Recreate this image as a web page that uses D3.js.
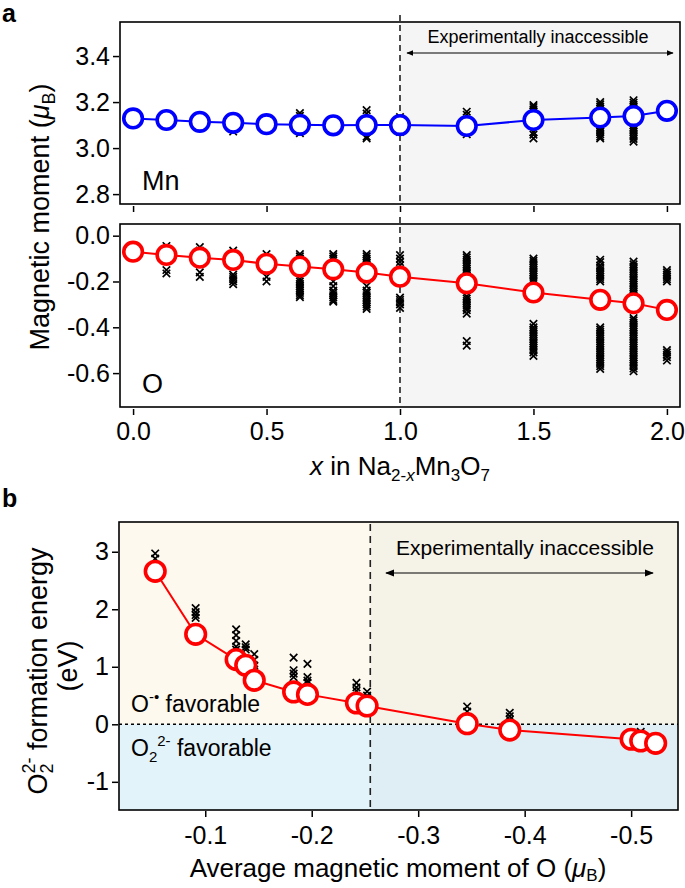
<!DOCTYPE html>
<html><head><meta charset="utf-8">
<script src="https://cdn.jsdelivr.net/npm/d3@7"></script>
<style>
body{margin:0;background:#fff;}
text{font-family:"Liberation Sans",Arial,Helvetica,sans-serif;fill:#000;}
</style></head>
<body><svg id="c" width="685" height="888"></svg>
<script>
// ---------- DATA ----------
const xContent = [0, 0.125, 0.25, 0.375, 0.5, 0.625, 0.75, 0.875, 1.0, 1.25, 1.5, 1.75, 1.875, 2.0];
const mnMean = [3.129, 3.122, 3.114, 3.110, 3.104, 3.101, 3.099, 3.100, 3.100, 3.096, 3.122, 3.133, 3.139, 3.162];
const oMean = [-0.070, -0.084, -0.096, -0.106, -0.123, -0.135, -0.147, -0.161, -0.179, -0.208, -0.248, -0.280, -0.295, -0.324];
const mnAtoms = [
  [],
  [],
  [],
  [3.128, 3.072],
  [],
  [3.152, 3.140, 3.075, 3.065],
  [],
  [3.165, 3.150, 3.050, 3.042],
  [3.135, 3.070],
  [3.158, 3.145, 3.060],
  [3.187, 3.178, 3.168, 3.160, 3.068, 3.058, 3.042],
  [3.200, 3.190, 3.180, 3.170, 3.160, 3.150, 3.110, 3.100, 3.090, 3.080, 3.070, 3.060, 3.050, 3.042],
  [3.208, 3.198, 3.188, 3.178, 3.168, 3.100, 3.090, 3.080, 3.070, 3.060, 3.050, 3.040, 3.028],
  []
];
const oAtoms = [
  [],
  [-0.045, -0.060, -0.150, -0.165],
  [-0.050, -0.065, -0.160, -0.180],
  [-0.065, -0.080, -0.170, -0.180, -0.190, -0.200, -0.212],
  [-0.080, -0.180, -0.200],
  [-0.080, -0.090, -0.100, -0.190, -0.200, -0.210, -0.220, -0.230, -0.240, -0.250, -0.260, -0.268],
  [-0.080, -0.090, -0.100, -0.200, -0.220, -0.240, -0.250, -0.260, -0.270, -0.280, -0.288],
  [-0.080, -0.090, -0.100, -0.110, -0.120, -0.130, -0.220, -0.240, -0.250, -0.260, -0.270, -0.280, -0.290, -0.300, -0.310, -0.320],
  [-0.085, -0.100, -0.115, -0.130, -0.270, -0.280, -0.290, -0.300, -0.315],
  [-0.085, -0.095, -0.105, -0.115, -0.125, -0.135, -0.145, -0.155, -0.165, -0.175, -0.265, -0.275, -0.285, -0.295, -0.305, -0.315, -0.325, -0.340, -0.460, -0.480],
  [-0.100, -0.110, -0.120, -0.130, -0.140, -0.150, -0.160, -0.170, -0.180, -0.190, -0.200, -0.385, -0.400, -0.410, -0.420, -0.430, -0.440, -0.450, -0.460, -0.470, -0.480, -0.490, -0.500, -0.510, -0.525],
  [-0.105, -0.115, -0.130, -0.140, -0.150, -0.160, -0.170, -0.180, -0.190, -0.200, -0.400, -0.410, -0.420, -0.430, -0.440, -0.450, -0.460, -0.470, -0.480, -0.490, -0.500, -0.510, -0.520, -0.530, -0.540, -0.550, -0.560, -0.570, -0.582],
  [-0.113, -0.125, -0.135, -0.145, -0.155, -0.165, -0.175, -0.185, -0.195, -0.205, -0.215, -0.225, -0.235, -0.245, -0.255, -0.265, -0.275, -0.285, -0.295, -0.360, -0.370, -0.380, -0.390, -0.400, -0.410, -0.420, -0.430, -0.440, -0.450, -0.460, -0.470, -0.480, -0.490, -0.500, -0.510, -0.520, -0.530, -0.540, -0.550, -0.560, -0.570, -0.580, -0.592],
  [-0.150, -0.160, -0.170, -0.180, -0.190, -0.200, -0.500, -0.510, -0.520, -0.530, -0.545]
];
const bMoment = [-0.053, -0.091, -0.129, -0.138, -0.146, -0.183, -0.196, -0.242, -0.252, -0.346, -0.386, -0.500, -0.509, -0.523];
const bEnergy = [2.66, 1.565, 1.125, 1.026, 0.765, 0.562, 0.52, 0.37, 0.318, 0.01, -0.10, -0.26, -0.29, -0.33];
const bAtoms = [
  [2.97, 2.88],
  [2.02, 1.95, 1.90, 1.85],
  [1.65, 1.55, 1.45, 1.35, 1.30],
  [1.39, 1.34, 1.30],
  [1.22, 1.12, 1.02, 0.95],
  [1.16, 0.94, 0.88, 0.82],
  [1.05, 0.82, 0.76, 0.72],
  [0.72, 0.64, 0.58],
  [0.57, 0.50],
  [0.31, 0.22],
  [0.20, 0.14, 0.08],
  [-0.15],
  [-0.13],
  []
];
const xTicksA = [0, 0.5, 1.0, 1.5, 2.0];
const xTickLabelsA = ["0.0", "0.5", "1.0", "1.5", "2.0"];
const mnTicks = [2.8, 3.0, 3.2, 3.4];
const mnTickLabels = ["2.8", "3.0", "3.2", "3.4"];
const oTicks = [0.0, -0.2, -0.4, -0.6];
const oTickLabels = ["0.0", "-0.2", "-0.4", "-0.6"];
const xTicksB = [-0.1, -0.2, -0.3, -0.4, -0.5];
const xTickLabelsB = ["-0.1", "-0.2", "-0.3", "-0.4", "-0.5"];
const yTicksB = [-1, 0, 1, 2, 3];
const yTickLabelsB = ["-1", "0", "1", "2", "3"];
const accessLimitA = 1.0;
const accessLimitB = -0.255;

// ---------- DRAW ----------
const svg = d3.select("#c");
const FONT_TICK = 25;

// scales panel a
const xA = d3.scaleLinear().domain([-0.049, 2.049]).range([120, 680]);
const yMn = d3.scaleLinear().domain([2.757, 3.548]).range([204, 22]);
const yO = d3.scaleLinear().domain([-0.748, 0.051]).range([407, 224]);
// scales panel b
const xB = d3.scaleLinear().domain([-0.019, -0.544]).range([119, 678]);
const yB = d3.scaleLinear().domain([-1.49, 3.517]).range([810, 522]);

const defs = svg.append("defs");
defs.append("marker").attr("id","arr").attr("viewBox","0 0 10 10").attr("refX",9).attr("refY",5)
  .attr("markerWidth",7).attr("markerHeight",7).attr("orient","auto-start-reverse").attr("markerUnits","userSpaceOnUse")
  .append("path").attr("d","M0,1L10,5L0,9Z").attr("fill","#000");
defs.append("marker").attr("id","arrB").attr("viewBox","0 0 10 10").attr("refX",9).attr("refY",5)
  .attr("markerWidth",9).attr("markerHeight",9).attr("orient","auto-start-reverse").attr("markerUnits","userSpaceOnUse")
  .append("path").attr("d","M0,1L10,5L0,9Z").attr("fill","#000");

const cross = d3.symbol().type(d3.symbolX).size(38);

function styleAxis(ax, dy, isY) {
  ax.select(".domain").remove();
  const t = ax.selectAll("text").attr("font-size", FONT_TICK).attr("font-family", "Liberation Sans, Arial").attr("fill", "#000");
  if (isY) t.attr("x", -9); else t.attr("y", dy);
  ax.selectAll("line").attr("stroke-width", 1.5);
}

function panelA(yS, means, atoms, color, label, showXLabels) {
  const [x0, x1] = xA.range();
  const [yb, yt] = yS.range();
  svg.append("rect").attr("x", xA(accessLimitA)).attr("y", yt).attr("width", x1 - xA(accessLimitA)).attr("height", yb - yt).attr("fill", "#f5f5f5");
  svg.append("line").attr("x1", xA(accessLimitA)).attr("x2", xA(accessLimitA)).attr("y1", yt - 7).attr("y2", yb)
    .attr("stroke", "#222").attr("stroke-width", 1.6).attr("stroke-dasharray", "6,4");
  const g = svg.append("g");
  xContent.forEach((xv, i) => {
    atoms[i].forEach(v => {
      g.append("path").attr("d", cross).attr("transform", `translate(${xA(xv)},${yS(v)})`)
        .attr("fill", "none").attr("stroke", "#000").attr("stroke-width", 1.7);
    });
  });
  const line = d3.line().x((d, i) => xA(xContent[i])).y(d => yS(d));
  svg.append("path").attr("d", line(means)).attr("fill", "none").attr("stroke", color).attr("stroke-width", 2);
  svg.selectAll(null).data(means).enter().append("circle")
    .attr("cx", (d, i) => xA(xContent[i])).attr("cy", d => yS(d)).attr("r", 9.3)
    .attr("fill", "#fff").attr("stroke", color).attr("stroke-width", 3.6);
  svg.append("rect").attr("x", x0).attr("y", yt).attr("width", x1 - x0).attr("height", yb - yt)
    .attr("fill", "none").attr("stroke", "#000").attr("stroke-width", 1.6);
  const ya = svg.append("g").attr("transform", `translate(${x0 - 1},0)`)
    .call(d3.axisLeft(yS).tickValues(label === "Mn" ? mnTicks : oTicks).tickSize(6).tickSizeOuter(0)
      .tickFormat((d, i) => (label === "Mn" ? mnTickLabels : oTickLabels)[i]));
  styleAxis(ya, 0, true);
  const xa = svg.append("g").attr("transform", `translate(0,${yb + 2})`)
    .call(d3.axisBottom(xA).tickValues(xTicksA).tickSize(6).tickSizeOuter(0).tickFormat((d, i) => showXLabels ? xTickLabelsA[i] : ""));
  styleAxis(xa, 13, false);
  svg.append("text").attr("x", x0 + 22).attr("y", yb - 14).attr("font-size", 27).text(label);
}

panelA(yMn, mnMean, mnAtoms, "#0000ff", "Mn", false);
panelA(yO, oMean, oAtoms, "#ff0000", "O", true);

svg.append("text").attr("x", 538).attr("y", 43).attr("text-anchor", "middle").attr("font-size", 18).text("Experimentally inaccessible");
svg.append("line").attr("x1", 407).attr("x2", 673).attr("y1", 53).attr("y2", 53).attr("stroke", "#000").attr("stroke-width", 1.2)
  .attr("marker-start", "url(#arr)").attr("marker-end", "url(#arr)");

const ytA = svg.append("text").attr("transform", "translate(49,217) rotate(-90)").attr("text-anchor", "middle").attr("font-size", 27);
ytA.append("tspan").text("Magnetic moment (");
ytA.append("tspan").attr("font-style", "italic").text("μ");
ytA.append("tspan").attr("font-size", 18).attr("dy", 6).text("B");
ytA.append("tspan").attr("dy", -6).text(")");

const xtA = svg.append("text").attr("x", 400).attr("y", 475).attr("text-anchor", "middle").attr("font-size", 26);
xtA.append("tspan").attr("font-style", "italic").text("x");
xtA.append("tspan").text(" in Na");
xtA.append("tspan").attr("font-size", 17).attr("dy", 6).text("2-");
xtA.append("tspan").attr("font-size", 17).attr("font-style", "italic").text("x");
xtA.append("tspan").attr("dy", -6).text("Mn");
xtA.append("tspan").attr("font-size", 17).attr("dy", 6).text("3");
xtA.append("tspan").attr("dy", -6).text("O");
xtA.append("tspan").attr("font-size", 17).attr("dy", 6).text("7");

// ---------- panel b ----------
const [bx0, bx1] = xB.range();
const [by1, by0] = yB.range();
const xs = xB(accessLimitB), y0 = yB(0);
svg.append("rect").attr("x", bx0).attr("y", by0).attr("width", xs - bx0).attr("height", y0 - by0).attr("fill", "#fdf9ee");
svg.append("rect").attr("x", xs).attr("y", by0).attr("width", bx1 - xs).attr("height", y0 - by0).attr("fill", "#f5f2e7");
svg.append("rect").attr("x", bx0).attr("y", y0).attr("width", xs - bx0).attr("height", by1 - y0).attr("fill", "#e3f3fa");
svg.append("rect").attr("x", xs).attr("y", y0).attr("width", bx1 - xs).attr("height", by1 - y0).attr("fill", "#dfeef4");
svg.append("line").attr("x1", bx0).attr("x2", bx1).attr("y1", y0).attr("y2", y0).attr("stroke", "#000").attr("stroke-width", 1.6).attr("stroke-dasharray", "3,3");
svg.append("line").attr("x1", xs).attr("x2", xs).attr("y1", by0 + 2).attr("y2", by1).attr("stroke", "#222").attr("stroke-width", 1.6).attr("stroke-dasharray", "7,5");

svg.append("text").attr("x", 525).attr("y", 555).attr("text-anchor", "middle").attr("font-size", 21).text("Experimentally inaccessible");
svg.append("line").attr("x1", 386).attr("x2", 653).attr("y1", 573).attr("y2", 573).attr("stroke", "#000").attr("stroke-width", 1.2)
  .attr("marker-start", "url(#arrB)").attr("marker-end", "url(#arrB)");

const t1 = svg.append("text").attr("x", 131).attr("y", 712).attr("font-size", 23);
t1.append("tspan").text("O");
t1.append("tspan").attr("font-size", 15).attr("dy", -10).text("-•");
t1.append("tspan").attr("dy", 10).text(" favorable");
const t2 = svg.append("text").attr("x", 131).attr("y", 756).attr("font-size", 23);
t2.append("tspan").text("O");
t2.append("tspan").attr("font-size", 15).attr("dy", 6).text("2");
t2.append("tspan").attr("font-size", 15).attr("dy", -16).text("2-");
t2.append("tspan").attr("dy", 10).text(" favorable");

const gb = svg.append("g");
bMoment.forEach((xv, i) => {
  bAtoms[i].forEach(v => {
    gb.append("path").attr("d", cross).attr("transform", `translate(${xB(xv)},${yB(v)})`)
      .attr("fill", "none").attr("stroke", "#000").attr("stroke-width", 1.7);
  });
});
const lineB = d3.line().x((d, i) => xB(bMoment[i])).y(d => yB(d));
svg.append("path").attr("d", lineB(bEnergy)).attr("fill", "none").attr("stroke", "#ff0000").attr("stroke-width", 2);
svg.selectAll(null).data(bEnergy).enter().append("circle")
  .attr("cx", (d, i) => xB(bMoment[i])).attr("cy", d => yB(d)).attr("r", 9.8)
  .attr("fill", "#fff").attr("stroke", "#ff0000").attr("stroke-width", 3.6);

svg.append("rect").attr("x", bx0).attr("y", by0).attr("width", bx1 - bx0).attr("height", by1 - by0)
  .attr("fill", "none").attr("stroke", "#000").attr("stroke-width", 1.6);

const yaB = svg.append("g").attr("transform", `translate(${bx0 - 1},0)`)
  .call(d3.axisLeft(yB).tickValues(yTicksB).tickSize(6).tickSizeOuter(0).tickFormat((d, i) => yTickLabelsB[i]));
styleAxis(yaB, 0, true);
const xaB = svg.append("g").attr("transform", `translate(0,${by1 + 1})`)
  .call(d3.axisBottom(xB).tickValues(xTicksB).tickSize(6).tickSizeOuter(0).tickFormat((d, i) => xTickLabelsB[i]));
styleAxis(xaB, 15, false);

const ytB = svg.append("text").attr("transform", "translate(47,671) rotate(-90)").attr("text-anchor", "middle").attr("font-size", 27);
ytB.append("tspan").text("O");
ytB.append("tspan").attr("font-size", 18).attr("dy", 6).text("2");
ytB.append("tspan").attr("font-size", 18).attr("dx", -10).attr("dy", -18).text("2-");
ytB.append("tspan").attr("dy", 12).text(" formation energy");
svg.append("text").attr("transform", "translate(77,666) rotate(-90)").attr("text-anchor", "middle").attr("font-size", 27).text("(eV)");

const xtB = svg.append("text").attr("x", 398).attr("y", 877).attr("text-anchor", "middle").attr("font-size", 26);
xtB.append("tspan").text("Average magnetic moment of O (");
xtB.append("tspan").attr("font-style", "italic").text("μ");
xtB.append("tspan").attr("font-size", 17).attr("dy", 4).text("B");
xtB.append("tspan").attr("dy", -4).text(")");

svg.append("text").attr("x", 2).attr("y", 22).attr("font-size", 25).attr("font-weight", "bold").text("a");
svg.append("text").attr("x", 2).attr("y", 507).attr("font-size", 25).attr("font-weight", "bold").text("b");
</script></body></html>
